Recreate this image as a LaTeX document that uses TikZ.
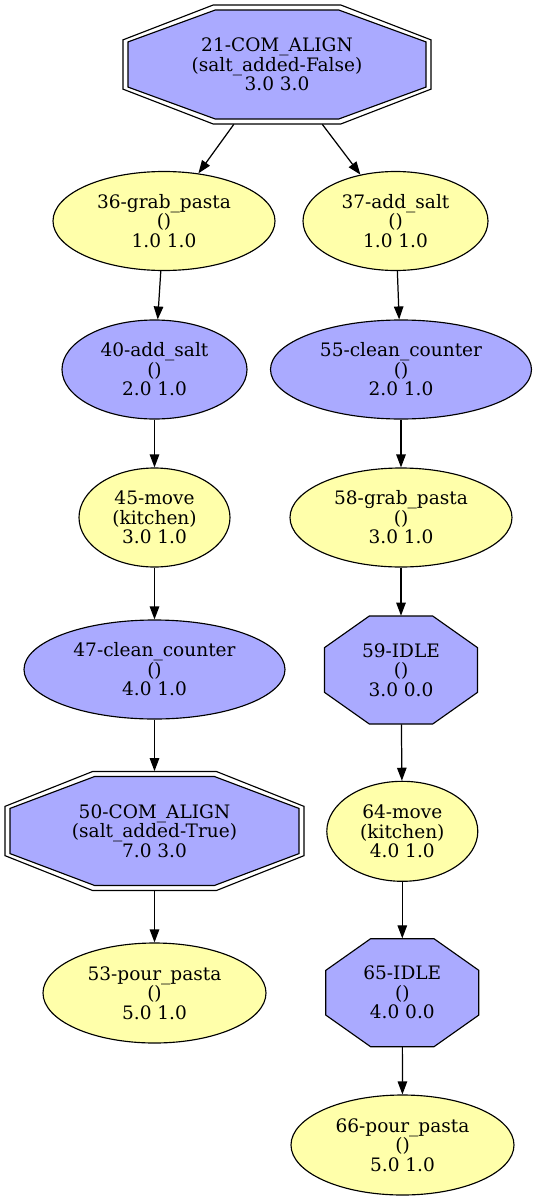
\documentclass[tikz,border=0pt]{standalone}
\usepackage{fontspec}
\setmainfont{DejaVu Serif}
\usetikzlibrary{shapes.geometric,arrows.meta}
\pgfdeclarelayer{background}
\pgfsetlayers{background,main}
\definecolor{nblue}{RGB}{170,170,255}
\definecolor{nyellow}{RGB}{255,255,170}
\def\pu{0.02cm}
\newcommand\octoshape[4]{% #1 node, #2 half width, #3 half height, #4 style
  \path[#4,shift={(#1.center)}] ({-0.4142*#2},{-#3}) -- ({0.4142*#2},{-#3}) -- ({#2},{-0.4142*#3}) -- ({#2},{0.4142*#3}) -- ({0.4142*#2},{#3}) -- ({-0.4142*#2},{#3}) -- ({-#2},{0.4142*#3}) -- ({-#2},{-0.4142*#3}) -- cycle;}
\tikzset{
  x=0.02cm, y=-0.02cm,
  txt/.style={font=\fontsize{10.55}{11.1}\selectfont, align=center, inner sep=0pt},
  yel/.style={txt, ellipse, draw, line width=0.65pt, fill=nyellow, minimum height=99*\pu},
  blu/.style={txt, ellipse, draw, line width=0.65pt, fill=nblue, minimum height=99*\pu},
  octnode/.style={txt, rectangle, draw=none},
  edge/.style={line width=0.7pt, -{Triangle[length=7.4pt, width=5.4pt]}}
}
\begin{document}
\begin{tikzpicture}
\useasboundingbox (0,0) rectangle (537,1200);
% nodes
\node[octnode, minimum width=308*\pu, minimum height=119*\pu] (n21) at (277,64.5) {21-COM\_ALIGN\\(salt\_added-False)\\3.0 3.0};
\node[yel, minimum width=222*\pu] (n36) at (164,221) {36-grab\_pasta\\()\\1.0 1.0};
\node[yel, minimum width=185*\pu] (n37) at (395.5,221) {37-add\_salt\\()\\1.0 1.0};
\node[blu, minimum width=185*\pu] (n40) at (154.5,369.5) {40-add\_salt\\()\\2.0 1.0};
\node[blu, minimum width=261*\pu] (n55) at (401,369.5) {55-clean\_counter\\()\\2.0 1.0};
\node[yel, minimum width=151*\pu] (n45) at (154.5,517.5) {45-move\\(kitchen)\\3.0 1.0};
\node[yel, minimum width=222*\pu] (n58) at (401,517.5) {58-grab\_pasta\\()\\3.0 1.0};
\node[blu, minimum width=261*\pu] (n47) at (154.5,669.5) {47-clean\_counter\\()\\4.0 1.0};
\node[octnode, minimum width=153*\pu, minimum height=108*\pu] (n59) at (401,670) {59-IDLE\\()\\3.0 0.0};
\node[octnode, minimum width=299*\pu, minimum height=119*\pu] (n50) at (154.5,831) {50-COM\_ALIGN\\(salt\_added-True)\\7.0 3.0};
\node[yel, minimum width=151*\pu, minimum height=100*\pu] (n64) at (402.3,831.3) {64-move\\(kitchen)\\4.0 1.0};
\node[yel, minimum width=223*\pu, minimum height=100*\pu] (n53) at (154.5,993) {53-pour\_pasta\\()\\5.0 1.0};
\node[octnode, minimum width=153*\pu, minimum height=108*\pu] (n65) at (402.3,992.7) {65-IDLE\\()\\4.0 0.0};
\node[yel, minimum width=223*\pu, minimum height=100*\pu] (n66) at (402.5,1145) {66-pour\_pasta\\()\\5.0 1.0};
% octagon outlines
\begin{pgfonlayer}{background}
  \octoshape{n21}{154}{59.5}{draw, line width=0.65pt, fill=white}
  \octoshape{n21}{149}{54.5}{draw, line width=0.65pt, fill=nblue}
  \octoshape{n50}{149.5}{59.5}{draw, line width=0.65pt, fill=white}
  \octoshape{n50}{144.5}{54.5}{draw, line width=0.65pt, fill=nblue}
  \octoshape{n59}{76.5}{54}{draw, line width=0.65pt, fill=nblue}
  \octoshape{n65}{76.5}{54}{draw, line width=0.65pt, fill=nblue}
\end{pgfonlayer}
% edges
\draw[edge] (n21) -- (n36);
\draw[edge] (n21) -- (n37);
\draw[edge] (n36) -- (n40);
\draw[edge] (n40) -- (n45);
\draw[edge] (n45) -- (n47);
\draw[edge] (n47) -- (n50);
\draw[edge] (n50) -- (n53);
\draw[edge] (n37) -- (n55);
\draw[edge] (n55) -- (n58);
\draw[edge] (n58) -- (n59);
\draw[edge] (n59) -- (n64);
\draw[edge] (n64) -- (n65);
\draw[edge] (n65) -- (n66);
\end{tikzpicture}
\end{document}
